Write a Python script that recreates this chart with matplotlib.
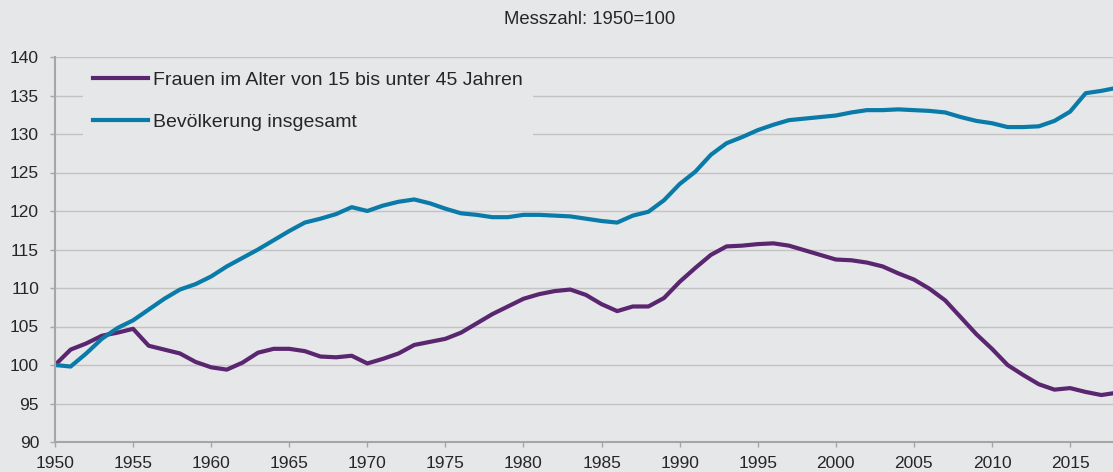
import numpy as np
import matplotlib.pyplot as plt

plt.rcParams['font.family'] = ['Liberation Sans', 'DejaVu Sans']

years = np.arange(1950, 2019)

frauen = [100.0, 102.0, 102.8, 103.8, 104.2, 104.7, 102.5, 102.0, 101.5, 100.4,
          99.7, 99.4, 100.3, 101.6, 102.1, 102.1, 101.8, 101.1, 101.0, 101.2,
          100.2, 100.8, 101.5, 102.6, 103.0, 103.4, 104.2, 105.4, 106.6, 107.6,
          108.6, 109.2, 109.6, 109.8, 109.1, 107.9, 107.0, 107.6, 107.6, 108.7,
          110.8, 112.6, 114.3, 115.4, 115.5, 115.7, 115.8, 115.5, 114.9, 114.3,
          113.7, 113.6, 113.3, 112.8, 111.9, 111.1, 109.9, 108.4, 106.2, 104.0,
          102.1, 100.0, 98.7, 97.5, 96.8, 97.0, 96.5, 96.1, 96.4]

bevoelkerung = [100.0, 99.8, 101.5, 103.4, 104.8, 105.8, 107.2, 108.6, 109.8, 110.5,
                111.5, 112.8, 113.9, 115.0, 116.2, 117.4, 118.5, 119.0, 119.6, 120.5,
                120.0, 120.7, 121.2, 121.5, 121.0, 120.3, 119.7, 119.5, 119.2, 119.2,
                119.5, 119.5, 119.4, 119.3, 119.0, 118.7, 118.5, 119.4, 119.9, 121.4,
                123.5, 125.1, 127.3, 128.8, 129.6, 130.5, 131.2, 131.8, 132.0, 132.2,
                132.4, 132.8, 133.1, 133.1, 133.2, 133.1, 133.0, 132.8, 132.2, 131.7,
                131.4, 130.9, 130.9, 131.0, 131.7, 132.9, 135.3, 135.6, 136.0]

labels = ['Frauen im Alter von 15 bis unter 45 Jahren', 'Bevölkerung insgesamt']
title = 'Messzahl: 1950=100'

bg = '#e6e7e9'
purple = '#5b2670'
blue = '#0a7ba8'
grey = '#a6a6a6'
txt = '#262626'

fig = plt.figure(figsize=(11.13, 4.72), dpi=100, facecolor=bg)
ax = fig.add_axes([55 / 1113, 30 / 472, 1 - 55 / 1113, 385 / 472], facecolor=bg)

ax.plot(years, frauen, color=purple, lw=3, label=labels[0])
ax.plot(years, bevoelkerung, color=blue, lw=3, label=labels[1])

ax.set_xlim(1950, 2017.75)
ax.set_ylim(90, 140)
ax.set_xticks(np.arange(1950, 2016, 5))
ax.set_yticks(np.arange(90, 141, 5))
ax.grid(axis='y', color='#c3c3c3', lw=1)
ax.set_axisbelow(True)

for s in ['top', 'right']:
    ax.spines[s].set_visible(False)
for s in ['left', 'bottom']:
    ax.spines[s].set_color(grey)
    ax.spines[s].set_linewidth(1.5)
ax.tick_params(direction='out', length=3.5, width=1, color=grey,
               labelsize=12.5, labelcolor=txt)
ax.tick_params(axis='x', pad=6.5)
ax.tick_params(axis='y', pad=8)

leg = ax.legend(loc='upper left', bbox_to_anchor=(0.0265, 0.988), frameon=True,
                facecolor=bg, edgecolor='none', fancybox=False, framealpha=1,
                fontsize=14, handlelength=2.85, handletextpad=0.26,
                labelspacing=1.26, borderpad=0.5, borderaxespad=0)
for t in leg.get_texts():
    t.set_color(txt)

fig.text(590 / 1113, 1 - 19 / 472, title, ha='center', va='center',
         fontsize=13.3, color=txt)

fig.savefig('out.png', dpi=100, facecolor=bg)
